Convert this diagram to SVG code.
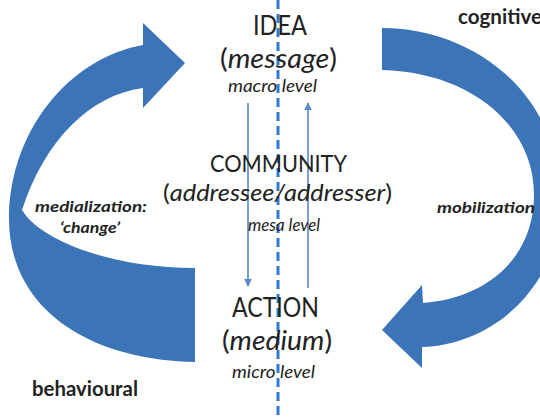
<svg xmlns="http://www.w3.org/2000/svg" width="540" height="419" viewBox="0 0 540 419">
<style>
.big{font-family:Lato,"Open Sans",sans-serif;font-size:27px;fill:#222;}
.mid{font-family:Lato,"Open Sans",sans-serif;font-size:24px;fill:#222;}
.lvl{font-family:Lato,"Open Sans",sans-serif;font-size:17px;font-style:italic;fill:#222;}
.side{font-family:Lato,"Open Sans",sans-serif;font-size:15px;font-weight:bold;font-style:italic;fill:#222;}
.dim{font-family:Lato,"Open Sans",sans-serif;font-size:20px;font-weight:bold;fill:#222;}
.it{font-style:italic;}
.cur{fill:#3b74b7;}
.thin{stroke:#5a88c8;stroke-width:1.6;fill:none;}
</style>
<defs>
<marker id="ah" viewBox="0 0 10 10" refX="9" refY="5" markerWidth="5" markerHeight="5" orient="auto">
<path d="M0,0 L10,5 L0,10 z" fill="#5a88c8"/>
</marker>
</defs>
<rect width="540" height="419" fill="#fff"/>
<g id="arrow-left">
<path class="cur" d="M143,45 L143,23 L185,63 L143,108 L143,88 C90,95 45,140 22,210 C40,240 110,268 195,268 L195,362 C90,360 10,310 9,220 C9,130 70,58 143,45 Z"/>
</g>
<g id="arrow-right">
<path class="cur" d="M382,28 C470,28 560,90 560,200 C560,290 490,345 422,347 L422,368 L382,330 L422,285 L423,303 C490,298 534,255 534,195 C534,125 470,72 382,70 Z"/>
</g>
<g id="connectors">
<line x1="278" y1="0" x2="278" y2="419" stroke="#2e7bd1" stroke-width="3" stroke-dasharray="9 5"/>
<line class="thin" x1="248" y1="103" x2="248" y2="286" marker-end="url(#ah)"/>
<line class="thin" x1="308" y1="288" x2="308" y2="103" marker-end="url(#ah)"/>
</g>
<g id="node-idea">
<text class="big" x="280" y="35" text-anchor="middle" textLength="54" lengthAdjust="spacingAndGlyphs">IDEA</text>
<text class="big" x="278.5" y="68" text-anchor="middle" textLength="117" lengthAdjust="spacingAndGlyphs">(<tspan class="it">message</tspan>)</text>
<text class="lvl" x="272.5" y="92" text-anchor="middle" textLength="89" lengthAdjust="spacingAndGlyphs">macro level</text>
</g>
<g id="node-community">
<text class="mid" x="278.5" y="172" text-anchor="middle" textLength="137" lengthAdjust="spacingAndGlyphs">COMMUNITY</text>
<text class="mid" x="277.5" y="201" text-anchor="middle" textLength="229" lengthAdjust="spacingAndGlyphs">(<tspan class="it">addressee/addresser</tspan>)</text>
<text class="lvl" x="284" y="231" text-anchor="middle" textLength="72" lengthAdjust="spacingAndGlyphs">mesa level</text>
</g>
<g id="node-action">
<text class="big" x="275.5" y="317" text-anchor="middle" textLength="87" lengthAdjust="spacingAndGlyphs">ACTION</text>
<text class="big" x="277" y="350" text-anchor="middle" textLength="110" lengthAdjust="spacingAndGlyphs">(<tspan class="it">medium</tspan>)</text>
<text class="lvl" x="273.5" y="378" text-anchor="middle" textLength="83" lengthAdjust="spacingAndGlyphs">micro level</text>
</g>
<g id="labels">
<text class="side" x="91" y="212" text-anchor="middle" textLength="112" lengthAdjust="spacingAndGlyphs">medialization:</text>
<text class="side" x="90" y="233" text-anchor="middle" textLength="60" lengthAdjust="spacingAndGlyphs">‘change’</text>
<text class="side" x="486" y="213" text-anchor="middle" textLength="98" lengthAdjust="spacingAndGlyphs">mobilization</text>
<text class="dim" x="32" y="396" textLength="106" lengthAdjust="spacingAndGlyphs">behavioural</text>
<text class="dim" x="458" y="24" textLength="84" lengthAdjust="spacingAndGlyphs">cognitive</text>
</g>
</svg>
